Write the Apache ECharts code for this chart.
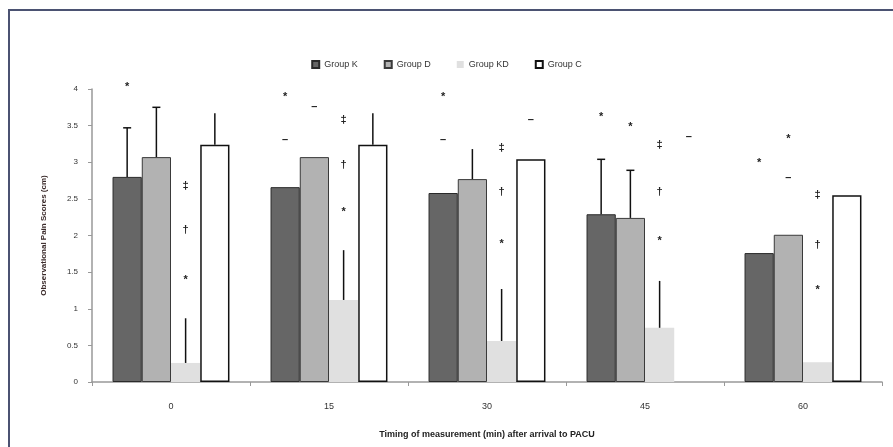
<!DOCTYPE html>
<html><head><meta charset="utf-8">
<script src="https://cdn.jsdelivr.net/npm/echarts@6/dist/echarts.min.js"></script>
<style>html,body{margin:0;padding:0;background:#fff}#c{width:893px;height:447px}</style>
</head><body><div id="c"></div>
<script>
const categories = ['0', '15', '30', '45', '60'];
const groupNames = ['Group K', 'Group D', 'Group KD', 'Group C'];
const groupK  = [2.80, 2.66, 2.58, 2.29, 1.76];
const groupD  = [3.07, 3.07, 2.77, 2.24, 2.01];
const groupKD = [0.26, 1.12, 0.56, 0.74, 0.27];
const groupC  = [3.24, 3.24, 3.04, null, 2.55];
// upper ends of error bars (null = none visible)
const errK  = [3.47, null, null, 3.04, null];
const errD  = [3.75, null, 3.18, 2.89, null];
const errKD = [0.87, 1.80, 1.27, 1.38, null];
const errC  = [3.67, 3.67, null, null, null];
// whether the error bar shows a cap
const capK  = [1, 0, 0, 1, 0];
const capD  = [1, 0, 0, 1, 0];
const capKD = [0, 0, 0, 0, 0];
const capC  = [0, 0, 0, 0, 0];
// significance marks: [category index, group slot (0=K..3=C), value, text]
const marks = [
  [0, 0, 4.03, '*'], [0, 2, 2.68, '‡'], [0, 2, 2.08, '†'], [0, 2, 1.39, '*'],
  [1, 0, 3.89, '*'], [1, 0, 3.30, '–'], [1, 1, 3.75, '–'], [1, 2, 3.58, '‡'], [1, 2, 2.96, '†'], [1, 2, 2.32, '*'],
  [2, 0, 3.89, '*'], [2, 0, 3.30, '–'], [2, 3, 3.58, '–'], [2, 2, 3.19, '‡'], [2, 2, 2.59, '†'], [2, 2, 1.88, '*'],
  [3, 0, 3.62, '*'], [3, 1, 3.48, '*'], [3, 2, 3.24, '‡'], [3, 2, 2.59, '†'], [3, 2, 1.92, '*'], [3, 3, 3.34, '–'],
  [4, 0, 2.99, '*'], [4, 1, 3.32, '*'], [4, 1, 2.78, '–'], [4, 2, 2.55, '‡'], [4, 2, 1.87, '†'], [4, 2, 1.26, '*']
];
const yTicks = ['0', '0.5', '1', '1.5', '2', '2.5', '3', '3.5', '4'];

const GAP = 0.26;
const values = [groupK, groupD, groupKD, groupC];
const errs = [errK, errD, errKD, errC];
const caps = [capK, capD, capKD, capC];

const errData = [];
values.forEach((arr, s) => arr.forEach((v, i) => {
  if (v != null && errs[s][i] != null) errData.push([i, v, errs[s][i], s, caps[s][i]]);
}));

function slotX(api, cat, val, slot) {
  const c = api.coord([cat, val]);
  const band = api.size([1, 0])[0];
  const bw = band * (1 - GAP) / 4;
  return [c[0] + (slot - 1.5) * bw, c[1], bw];
}

const chart = echarts.init(document.getElementById('c'));
const barStyles = [
  {color: '#666666', borderColor: '#2a2a2a', borderWidth: 1},
  {color: '#b2b2b2', borderColor: '#3a3a3a', borderWidth: 1},
  {color: '#e0e0e0', borderColor: '#e0e0e0', borderWidth: 0},
  {color: '#ffffff', borderColor: '#111111', borderWidth: 1.5}
];
const series = values.map((arr, s) => ({
  name: groupNames[s], type: 'bar', data: arr, barGap: 0, barCategoryGap: (GAP * 100) + '%',
  itemStyle: barStyles[s], z: 2
}));
series.push({
  type: 'custom', data: errData, z: 5, silent: true,
  renderItem: function (params, api) {
    const cat = api.value(0), lo = api.value(1), hi = api.value(2), slot = api.value(3), cap = api.value(4);
    const p1 = slotX(api, cat, lo, slot), p2 = slotX(api, cat, hi, slot);
    const children = [{type: 'line', shape: {x1: p1[0], y1: p1[1], x2: p2[0], y2: p2[1]}, style: {stroke: '#111', lineWidth: 1.5}}];
    if (cap) children.push({type: 'line', shape: {x1: p2[0] - 4, y1: p2[1], x2: p2[0] + 4, y2: p2[1]}, style: {stroke: '#111', lineWidth: 1.5}});
    return {type: 'group', children: children};
  }
});
series.push({
  type: 'custom', data: marks.map(m => [m[0], m[2], m[1], m[3]]), z: 6, silent: true,
  renderItem: function (params, api) {
    const m = marks[params.dataIndex];
    const p = slotX(api, m[0], m[2], m[1]);
    return {type: 'text', x: p[0], y: p[1], style: {text: m[3], fill: '#222', font: 'bold 11px "Liberation Sans", Arial', align: 'center', verticalAlign: 'middle'}};
  }
});

chart.setOption({
  animation: false,
  backgroundColor: '#fff',
  graphic: [
    {type: 'line', shape: {x1: 9, y1: 10, x2: 9, y2: 447}, style: {stroke: '#4b5272', lineWidth: 2}},
    {type: 'line', shape: {x1: 8, y1: 10, x2: 893, y2: 10}, style: {stroke: '#4b5272', lineWidth: 2}}
  ],
  legend: {
    data: groupNames, top: 55, left: 'center', itemWidth: 7, itemHeight: 7, itemGap: 26,
    icon: 'rect',
    textStyle: {fontSize: 9, color: '#333', fontFamily: '"Liberation Sans", Arial'}
  },
  grid: {left: 92, right: 11, top: 89, bottom: 65},
  xAxis: {
    type: 'category', data: categories,
    name: 'Timing of measurement (min) after arrival to PACU', nameLocation: 'middle', nameGap: 48,
    nameTextStyle: {fontSize: 9, fontWeight: 'bold', color: '#222', fontFamily: '"Liberation Sans", Arial'},
    axisLine: {lineStyle: {color: '#999', width: 1.5}},
    axisTick: {show: true, length: 4, lineStyle: {color: '#999'}},
    axisLabel: {fontSize: 9, color: '#333', margin: 20, fontFamily: '"Liberation Sans", Arial'}
  },
  yAxis: {
    type: 'value', min: 0, max: 4, interval: 0.5,
    name: 'Observational Pain Scores (cm)', nameLocation: 'middle', nameGap: 44, nameRotate: 90,
    nameTextStyle: {fontSize: 8, fontWeight: 'bold', color: '#3a2a2a', fontFamily: '"Liberation Sans", Arial'},
    axisLine: {show: true, lineStyle: {color: '#999', width: 1.5}},
    axisTick: {show: true, length: 4, lineStyle: {color: '#999'}},
    splitLine: {show: false},
    axisLabel: {fontSize: 8, color: '#333', margin: 14, fontFamily: '"Liberation Sans", Arial',
      formatter: v => yTicks[Math.round(v * 2)]}
  },
  series: series
});
</script></body></html>
